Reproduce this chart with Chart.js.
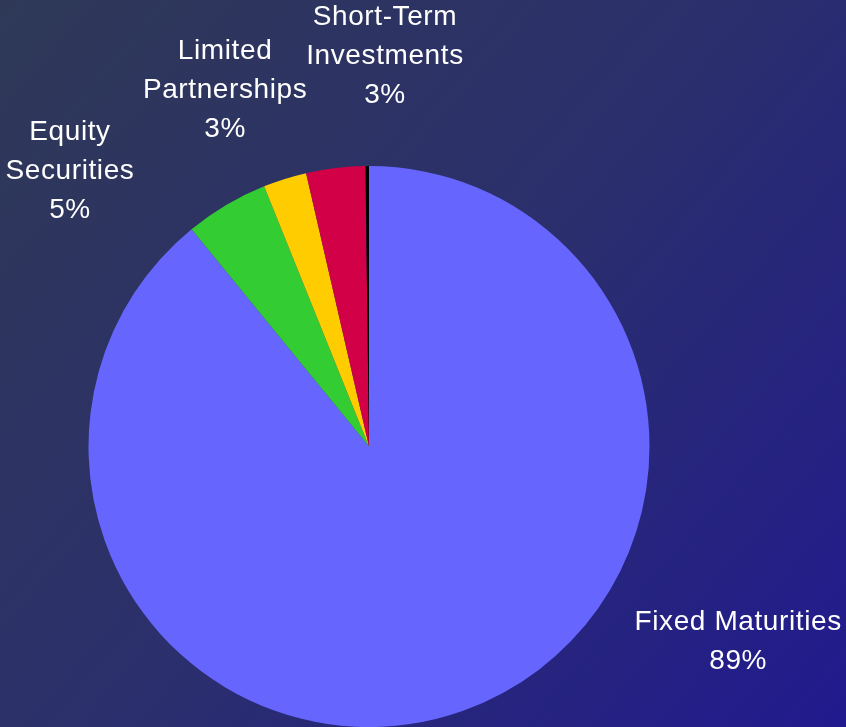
<!DOCTYPE html>
<html>
<head>
<meta charset="utf-8">
<script src="https://cdn.jsdelivr.net/npm/chart.js@4/dist/chart.umd.min.js"></script>
<style>
  html, body { margin: 0; padding: 0; background: #2a2d6e; }
  #wrap { width: 846px; height: 727px; position: relative; }
</style>
</head>
<body>
<div id="wrap"><canvas id="pie"></canvas></div>
<script>
// portfolio mix, percent of total
const categories = ['Fixed Maturities', 'Equity Securities', 'Limited Partnerships', 'Short-Term Investments', 'Other'];
const shares = [89.1, 4.8, 2.5, 3.4, 0.2];
const sliceColors = ['#6666ff', '#33cc33', '#ffcc00', '#d10047', '#000000'];

// label lines shown next to each slice (the tiny one gets none)
const labelLines = [
  ['Fixed Maturities'],
  ['Equity', 'Securities'],
  ['Limited', 'Partnerships'],
  ['Short-Term', 'Investments'],
  null
];
// where each label block sits, in multiples of the radius from the centre
const labelSpots = [[1.316, 0.696], [-1.066, -0.98], [-0.513, -1.269], [0.057, -1.39], null];

const bgPlugin = {
  id: 'bg',
  beforeDraw(chart) {
    const { ctx, width, height } = chart;
    const g = ctx.createLinearGradient(0, 0, width, height);
    g.addColorStop(0, '#2f3957');
    g.addColorStop(0.5, '#2b2f6c');
    g.addColorStop(1, '#211a8f');
    ctx.save();
    ctx.fillStyle = g;
    ctx.fillRect(0, 0, width, height);
    ctx.restore();
  }
};

const labelPlugin = {
  id: 'sliceLabels',
  afterDraw(chart) {
    const { ctx } = chart;
    const arcs = chart.getDatasetMeta(0).data;
    const total = shares.reduce((a, b) => a + b, 0);
    ctx.save();
    ctx.fillStyle = '#ffffff';
    ctx.font = '28px Arial, "Liberation Sans", sans-serif';
    ctx.letterSpacing = '0.6px';
    ctx.textAlign = 'center';
    ctx.textBaseline = 'middle';
    arcs.forEach((arc, i) => {
      if (!labelLines[i]) return;
      const r = arc.outerRadius;
      const lines = labelLines[i].concat(Math.round(shares[i] / total * 100) + '%');
      const cx = arc.x + labelSpots[i][0] * r;
      const cy = arc.y + labelSpots[i][1] * r;
      const lh = 39;
      const top = cy - (lines.length - 1) * lh / 2;
      lines.forEach((t, k) => ctx.fillText(t, cx, top + k * lh));
    });
    ctx.restore();
  }
};

new Chart(document.getElementById('pie'), {
  type: 'pie',
  data: {
    labels: categories,
    datasets: [{
      data: shares,
      backgroundColor: sliceColors,
      borderWidth: 0
    }]
  },
  options: {
    responsive: true,
    maintainAspectRatio: false,
    animation: false,
    layout: { padding: { left: 88, right: 196, top: 166, bottom: 0 } },
    plugins: {
      legend: { display: false },
      tooltip: { enabled: false }
    }
  },
  plugins: [bgPlugin, labelPlugin]
});
</script>
</body>
</html>
